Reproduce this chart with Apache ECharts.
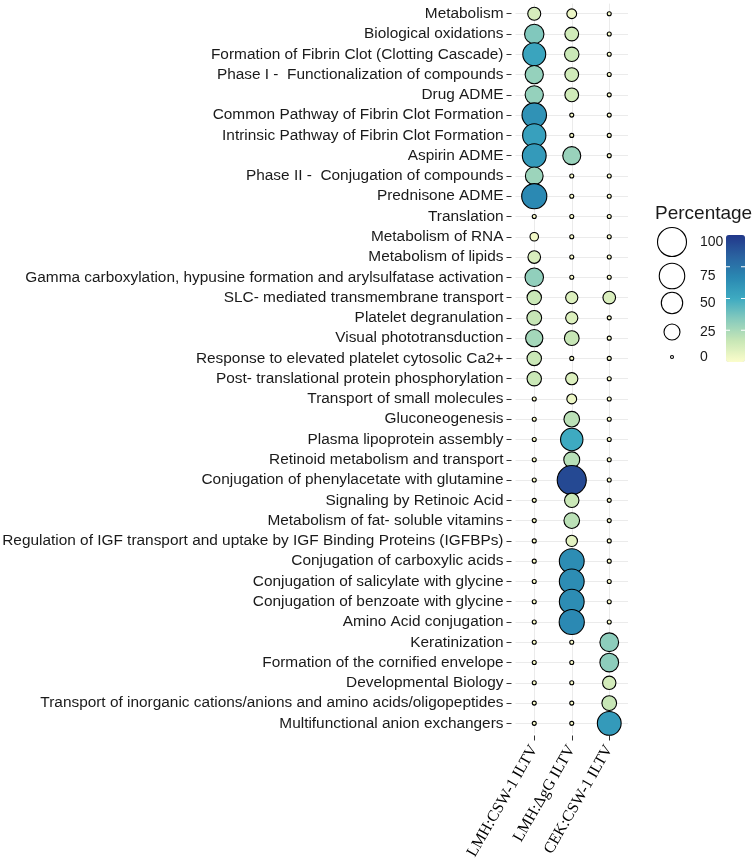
<!DOCTYPE html>
<html><head><meta charset="utf-8">
<script src="https://cdn.jsdelivr.net/npm/echarts@6/dist/echarts.min.js"></script>
<style>html,body{margin:0;padding:0;background:#fff}#chart{width:753px;height:866px}</style>
</head><body><div id="chart"></div>
<script>
// ---- data ----
const pathways = [
  'Metabolism',
  'Biological oxidations',
  'Formation of Fibrin Clot (Clotting Cascade)',
  'Phase I -  Functionalization of compounds',
  'Drug ADME',
  'Common Pathway of Fibrin Clot Formation',
  'Intrinsic Pathway of Fibrin Clot Formation',
  'Aspirin ADME',
  'Phase II -  Conjugation of compounds',
  'Prednisone ADME',
  'Translation',
  'Metabolism of RNA',
  'Metabolism of lipids',
  'Gamma carboxylation, hypusine formation and arylsulfatase activation',
  'SLC- mediated transmembrane transport',
  'Platelet degranulation',
  'Visual phototransduction',
  'Response to elevated platelet cytosolic Ca2+',
  'Post- translational protein phosphorylation',
  'Transport of small molecules',
  'Gluconeogenesis',
  'Plasma lipoprotein assembly',
  'Retinoid metabolism and transport',
  'Conjugation of phenylacetate with glutamine',
  'Signaling by Retinoic Acid',
  'Metabolism of fat- soluble vitamins',
  'Regulation of IGF transport and uptake by IGF Binding Proteins (IGFBPs)',
  'Conjugation of carboxylic acids',
  'Conjugation of salicylate with glycine',
  'Conjugation of benzoate with glycine',
  'Amino Acid conjugation',
  'Keratinization',
  'Formation of the cornified envelope',
  'Developmental Biology',
  'Transport of inorganic cations/anions and amino acids/oligopeptides',
  'Multifunctional anion exchangers'
];
const samples = ['LMH:CSW-1 ILTV', 'LMH:\u0394gG ILTV', 'CEK:CSW-1 ILTV'];
const lmhCsw = [12, 35, 53, 30, 30, 62, 55, 58, 28, 66, 0, 3, 11, 31, 16, 17, 26, 16, 16, 0, 0, 0, 0, 0, 0, 0, 0, 0, 0, 0, 0, 0, 0, 0, 0, 0];
const lmhDgG = [5, 14, 16, 14, 14, 0, 0, 29, 0, 0, 0, 0, 0, 0, 10, 10, 17, 0, 10, 5, 20, 50, 21, 93, 16, 20, 8, 64, 64, 64, 66, 0, 0, 0, 0, 0];
const cekCsw = [0, 0, 0, 0, 0, 0, 0, 0, 0, 0, 0, 0, 0, 0, 11, 0, 0, 0, 0, 0, 0, 0, 0, 0, 0, 0, 0, 0, 0, 0, 0, 32, 32, 13, 17, 58];
const sizeBreaks = [100, 75, 50, 25, 0];
const colourBreaks = [25, 50, 75];
const paletteYlGnBu = ['#fbfdcb', '#c8e7b6', '#88cbbd', '#3eaac1', '#2a88b2', '#2a62a0', '#22378a'];

// ---- build ----
const columns = [lmhCsw, lmhDgG, cekCsw];
const points = [];
pathways.forEach(function (p, r) {
  columns.forEach(function (col, c) { points.push([c, r, col[r]]); });
});
function dotSize(v) { return 4 + 26 * Math.sqrt(v / 100); }

const legendX = 672, legendYs = [242, 276, 303, 332, 357];
const graphics = [{
  type: 'text', left: 655, top: 204,
  style: { text: 'Percentage', font: '19px "Liberation Sans", Arial, sans-serif', fill: '#1a1a1a' }
}];
sizeBreaks.forEach(function (v, i) {
  const r = dotSize(v) / 2;
  graphics.push({ type: 'circle', shape: { cx: legendX, cy: legendYs[i], r: r - 0.5 },
    style: { fill: '#fff', stroke: '#000', lineWidth: 1.1 } });
  graphics.push({ type: 'text', x: 700, y: legendYs[i],
    style: { text: String(v), font: '14px "Liberation Sans", Arial, sans-serif', fill: '#1a1a1a', verticalAlign: 'middle', align: 'left' } });
});
const barTop = 235, barH = 127, barL = 726, barW = 19;
colourBreaks.forEach(function (v) {
  const y = barTop + barH * (1 - v / 100);
  graphics.push({ type: 'line', shape: { x1: barL, y1: y, x2: barL + 4, y2: y }, style: { stroke: '#fff', lineWidth: 1 }, z: 100 });
  graphics.push({ type: 'line', shape: { x1: barL + barW - 4, y1: y, x2: barL + barW, y2: y }, style: { stroke: '#fff', lineWidth: 1 }, z: 100 });
});

const chart = echarts.init(document.getElementById('chart'), null, { renderer: 'canvas' });
chart.setOption({
  backgroundColor: '#ffffff',
  animation: false,
  grid: { left: 515.5, top: 3.6, width: 112.5, height: 729.9, containLabel: false, outerBoundsMode: 'none' },
  xAxis: {
    type: 'category', data: samples, position: 'bottom', offset: 2,
    axisLine: { show: false },
    axisTick: { show: true, length: 5, alignWithLabel: true, interval: 0, lineStyle: { color: '#333', width: 1 } },
    axisLabel: { rotate: 60, interval: 0, margin: 11, fontFamily: '"Liberation Serif", "Times New Roman", serif', fontSize: 16, color: '#000' },
    splitLine: { show: true, alignWithLabel: true, interval: 0, lineStyle: { color: '#ebebeb', width: 1 } }
  },
  yAxis: {
    type: 'category', data: pathways, inverse: true, offset: 4,
    axisLine: { show: false },
    axisTick: { show: true, length: 5, alignWithLabel: true, interval: 0, lineStyle: { color: '#333', width: 1 } },
    axisLabel: { interval: 0, margin: 8, fontFamily: '"Liberation Sans", Arial, sans-serif', fontSize: 15.4, color: '#1a1a1a' },
    splitLine: { show: true, alignWithLabel: true, interval: 0, lineStyle: { color: '#ebebeb', width: 1 } }
  },
  visualMap: {
    type: 'continuous', min: 0, max: 100, dimension: 2, seriesIndex: 0,
    inRange: { color: paletteYlGnBu },
    calculable: false, hoverLink: false, padding: 0,
    left: barL, top: barTop, itemWidth: barW, itemHeight: barH,
    text: null, showLabel: false
  },
  series: [{
    type: 'scatter', data: points,
    encode: { x: 0, y: 1 },
    symbol: 'circle',
    symbolSize: function (val) { return dotSize(val[2]); },
    itemStyle: { borderColor: '#000', borderWidth: 1.1, opacity: 1 },
    emphasis: { disabled: true }
  }],
  graphic: graphics
});
</script></body></html>
